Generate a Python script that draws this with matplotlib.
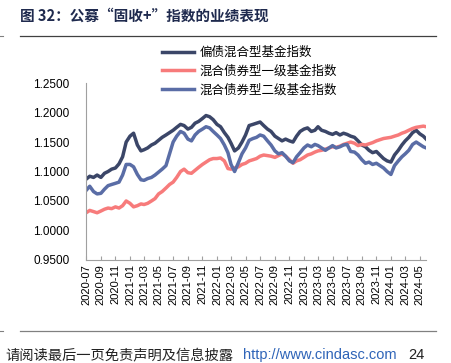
import matplotlib
matplotlib.use("Agg")
import matplotlib.pyplot as plt
import matplotlib.dates as mdates
import pandas as pd

plt.rcParams['font.family'] = ['Liberation Sans', 'Noto Sans CJK SC', 'DejaVu Sans']

# values (semi-monthly)
dates = pd.to_datetime([
    "2020-07-01", "2020-07-16", "2020-08-01", "2020-08-16", "2020-09-01", "2020-09-16",
    "2020-10-01", "2020-10-16", "2020-11-01", "2020-11-16", "2020-12-01", "2020-12-16",
    "2021-01-01", "2021-01-16", "2021-02-01", "2021-02-16", "2021-03-01", "2021-03-16",
    "2021-04-01", "2021-04-16", "2021-05-01", "2021-05-16", "2021-06-01", "2021-06-16",
    "2021-07-01", "2021-07-16", "2021-08-01", "2021-08-16", "2021-09-01", "2021-09-16",
    "2021-10-01", "2021-10-16", "2021-11-01", "2021-11-16", "2021-12-01", "2021-12-16",
    "2022-01-01", "2022-01-16", "2022-02-01", "2022-02-16", "2022-03-01", "2022-03-16",
    "2022-04-01", "2022-04-16", "2022-05-01", "2022-05-16", "2022-06-01", "2022-06-16",
    "2022-07-01", "2022-07-16", "2022-08-01", "2022-08-16", "2022-09-01", "2022-09-16",
    "2022-10-01", "2022-10-16", "2022-11-01", "2022-11-16", "2022-12-01", "2022-12-16",
    "2023-01-01", "2023-01-16", "2023-02-01", "2023-02-16", "2023-03-01", "2023-03-16",
    "2023-04-01", "2023-04-16", "2023-05-01", "2023-05-16", "2023-06-01", "2023-06-16",
    "2023-07-01", "2023-07-16", "2023-08-01", "2023-08-16", "2023-09-01", "2023-09-16",
    "2023-10-01", "2023-10-16", "2023-11-01", "2023-11-16", "2023-12-01", "2023-12-16",
    "2024-01-01", "2024-01-16", "2024-02-01", "2024-02-16", "2024-03-01", "2024-03-16",
    "2024-04-01", "2024-04-16", "2024-05-01", "2024-05-16", "2024-05-28",
])

pianzhai = [
    1.087, 1.092, 1.090, 1.094, 1.090, 1.097, 1.100, 1.104, 1.106, 1.113, 1.125, 1.150,
    1.160, 1.165, 1.145, 1.135, 1.137, 1.140, 1.145, 1.148, 1.153, 1.158, 1.162, 1.166,
    1.170, 1.175, 1.180, 1.178, 1.172, 1.175, 1.182, 1.185, 1.190, 1.195, 1.193, 1.188,
    1.180, 1.176, 1.166, 1.158, 1.148, 1.135, 1.140, 1.150, 1.162, 1.178, 1.180, 1.182,
    1.184, 1.178, 1.172, 1.168, 1.160, 1.156, 1.152, 1.155, 1.152, 1.150, 1.160, 1.168,
    1.172, 1.174, 1.168, 1.170, 1.176, 1.170, 1.168, 1.165, 1.163, 1.166, 1.162, 1.165,
    1.163, 1.160, 1.158, 1.152, 1.145, 1.142, 1.136, 1.132, 1.134, 1.128, 1.122, 1.118,
    1.116, 1.128, 1.136, 1.145, 1.152, 1.158, 1.166, 1.170, 1.164, 1.160, 1.155,
]

yiji = [
    1.030, 1.034, 1.032, 1.030, 1.033, 1.036, 1.038, 1.037, 1.040, 1.038, 1.042, 1.050,
    1.046, 1.040, 1.042, 1.045, 1.044, 1.046, 1.050, 1.054, 1.062, 1.066, 1.072, 1.078,
    1.082, 1.090, 1.100, 1.104, 1.098, 1.097, 1.102, 1.107, 1.112, 1.116, 1.120, 1.122,
    1.122, 1.123, 1.118, 1.105, 1.104, 1.106, 1.108, 1.112, 1.114, 1.118, 1.120, 1.122,
    1.126, 1.128, 1.127, 1.126, 1.124, 1.127, 1.130, 1.126, 1.120, 1.114, 1.118, 1.120,
    1.124, 1.128, 1.130, 1.133, 1.135, 1.136, 1.138, 1.140, 1.142, 1.141, 1.143, 1.146,
    1.148, 1.150, 1.148, 1.144, 1.146, 1.145, 1.147, 1.149, 1.152, 1.154, 1.156, 1.157,
    1.158, 1.160, 1.162, 1.165, 1.167, 1.170, 1.173, 1.175, 1.176, 1.177, 1.176,
]

erji = [
    1.068, 1.075, 1.066, 1.062, 1.063, 1.070, 1.076, 1.078, 1.080, 1.082, 1.094, 1.112,
    1.112, 1.108, 1.095, 1.086, 1.085, 1.088, 1.090, 1.094, 1.099, 1.104, 1.110, 1.130,
    1.150, 1.160, 1.168, 1.165, 1.155, 1.152, 1.162, 1.168, 1.172, 1.176, 1.174, 1.168,
    1.162, 1.156, 1.145, 1.132, 1.112, 1.100, 1.115, 1.130, 1.140, 1.153, 1.156, 1.158,
    1.162, 1.160, 1.152, 1.145, 1.135, 1.130, 1.132, 1.126, 1.118, 1.115, 1.125, 1.132,
    1.140, 1.145, 1.142, 1.146, 1.144, 1.140, 1.136, 1.140, 1.144, 1.140, 1.142, 1.145,
    1.146, 1.134, 1.133, 1.128, 1.120, 1.114, 1.116, 1.112, 1.114, 1.110, 1.106, 1.100,
    1.095, 1.110, 1.118, 1.125, 1.130, 1.136, 1.146, 1.150, 1.146, 1.142, 1.140,
]

labels = ["偏债混合型基金指数", "混合债券型一级基金指数", "混合债券型二级基金指数"]
colors = ["#3B4668", "#F77B7B", "#5A6DA6"]

fig = plt.figure(figsize=(4.51, 3.63), dpi=100)
ax = fig.add_axes([0.191, 0.284, 0.754, 0.487])

for vals, lab, col in zip([pianzhai, yiji, erji], labels, colors):
    ax.plot(dates, vals, color=col, lw=2.5, label=lab)

ax.set_ylim(0.95, 1.25)
ax.set_yticks([0.95, 1.0, 1.05, 1.1, 1.15, 1.2, 1.25])
ax.yaxis.set_major_formatter(plt.FormatStrFormatter('%.4f'))
ax.set_xlim(dates[0], dates[-1])
ax.xaxis.set_major_locator(mdates.MonthLocator(bymonth=[1, 3, 5, 7, 9, 11]))
ax.xaxis.set_major_formatter(mdates.DateFormatter('%Y-%m'))
plt.setp(ax.get_xticklabels(), rotation=90)

for s in ['top', 'right']:
    ax.spines[s].set_visible(False)
for s in ['left', 'bottom']:
    ax.spines[s].set_color('#A0A0A0')
ax.tick_params(axis='x', direction='in', length=3, color='#A0A0A0', labelsize=8, pad=3)
ax.tick_params(axis='y', length=0, labelsize=8.5, pad=12)

leg = ax.legend(loc='upper left', bbox_to_anchor=(0.345, 0.89), bbox_transform=fig.transFigure,
                frameon=False, prop={'family': ['Noto Sans CJK SC'], 'size': 9},
                handlelength=2.6, handletextpad=0.4, labelspacing=0.45, borderpad=0)

# title and page decoration
fig.text(0.045, 0.958, "图 32：公募“固收+”指数的业绩表现", fontsize=10.5, fontweight='bold',
         color='#1F2A4E', family=['Noto Sans CJK SC'], va='center', ha='left')
fig.add_artist(plt.Line2D([0.044, 0.967], [0.901, 0.901], color='#404040', lw=0.9))
fig.add_artist(plt.Line2D([0.044, 0.967], [0.088, 0.088], color='#808080', lw=0.9))
fig.add_artist(plt.Line2D([0.0, 0.007], [0.901, 0.901], color='#808080', lw=0.8))
fig.add_artist(plt.Line2D([0.0, 0.007], [0.088, 0.088], color='#808080', lw=0.8))
fig.text(0.012, 0.022, "请阅读最后一页免责声明及信息披露", fontsize=10.3, color='#222222',
         family=['Noto Sans CJK SC'], va='center', ha='left')
fig.text(0.538, 0.022, "http://www.cindasc.com", fontsize=10.5, color='#2E64B8',
         va='center', ha='left')
fig.text(0.905, 0.022, "24", fontsize=10.5, color='#222222', va='center', ha='left')

fig.savefig("out.png", dpi=100)
